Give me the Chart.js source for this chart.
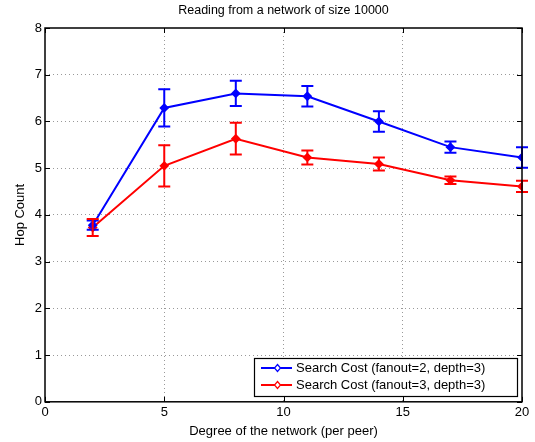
<!DOCTYPE html>
<html>
<head>
<meta charset="utf-8">
<script src="https://cdn.jsdelivr.net/npm/chart.js@4.4.0/dist/chart.umd.min.js"></script>
<style>
  html, body { margin: 0; padding: 0; background: #fff; }
  #wrap { width: 535px; height: 442px; }
</style>
</head>
<body>
<div id="wrap"><canvas id="chart"></canvas></div>
<script>
const degrees = [2, 5, 8, 11, 14, 17, 20];
const fanout2Cost = [3.78, 6.29, 6.60, 6.54, 6.00, 5.45, 5.23];
const fanout2Err = [0.10, 0.40, 0.27, 0.22, 0.22, 0.12, 0.22];
const fanout3Cost = [3.73, 5.05, 5.63, 5.23, 5.09, 4.74, 4.61];
const fanout3Err = [0.18, 0.44, 0.34, 0.15, 0.14, 0.08, 0.12];
const xTicks = [0, 5, 10, 15, 20];
const yTicks = [0, 1, 2, 3, 4, 5, 6, 7, 8];

const FONT = 'Liberation Sans, Arial, Helvetica, sans-serif';

function toPoints(xs, ys) {
    return xs.map((x, i) => ({ x: x, y: ys[i] }));
}

// error bars, drawn on the library's scales
const errorBars = {
    id: 'errorBars',
    afterDatasetsDraw(chart) {
        const ctx = chart.ctx;
        const xs = chart.scales.x, ys = chart.scales.y;
        chart.data.datasets.forEach((ds) => {
            ctx.save();
            ctx.strokeStyle = ds.borderColor;
            ctx.lineWidth = 2;
            ds.data.forEach((p, i) => {
                const e = ds.errors[i];
                const px = xs.getPixelForValue(p.x);
                const top = ys.getPixelForValue(p.y + e);
                const bot = ys.getPixelForValue(p.y - e);
                ctx.beginPath();
                ctx.moveTo(px, top); ctx.lineTo(px, bot);
                ctx.moveTo(px - 6, top); ctx.lineTo(px + 6, top);
                ctx.moveTo(px - 6, bot); ctx.lineTo(px + 6, bot);
                ctx.stroke();
            });
            ctx.restore();
        });
    }
};

// matlab style box, inward ticks and legend
const matlabBox = {
    id: 'matlabBox',
    afterDraw(chart) {
        const ctx = chart.ctx;
        const a = chart.chartArea;
        const xs = chart.scales.x, ys = chart.scales.y;
        ctx.save();
        ctx.strokeStyle = '#000';
        ctx.lineWidth = 1;
        ctx.beginPath();
        xTicks.forEach(v => {
            const px = Math.round(xs.getPixelForValue(v)) + 0.5;
            ctx.moveTo(px, a.bottom); ctx.lineTo(px, a.bottom - 5);
            ctx.moveTo(px, a.top); ctx.lineTo(px, a.top + 5);
        });
        yTicks.forEach(v => {
            const py = Math.round(ys.getPixelForValue(v)) + 0.5;
            ctx.moveTo(a.left, py); ctx.lineTo(a.left + 5, py);
            ctx.moveTo(a.right, py); ctx.lineTo(a.right - 5, py);
        });
        ctx.stroke();
        ctx.lineWidth = 1.5;
        ctx.strokeRect(a.left, a.top, a.right - a.left, a.bottom - a.top);

        // legend
        const bx = 254, by = 358, bw = 263, bh = 38;
        ctx.fillStyle = '#fff';
        ctx.fillRect(bx, by, bw, bh);
        ctx.lineWidth = 1.2;
        ctx.strokeRect(bx + 0.5, by + 0.5, bw, bh);
        ctx.font = '13px ' + FONT;
        ctx.textBaseline = 'middle';
        chart.data.datasets.forEach((ds, i) => {
            const y = by + 10 + i * 17;
            ctx.strokeStyle = ds.borderColor;
            ctx.fillStyle = ds.borderColor;
            ctx.lineWidth = 2;
            ctx.beginPath();
            ctx.moveTo(bx + 7, y); ctx.lineTo(bx + 38, y);
            ctx.stroke();
            ctx.lineWidth = 1.2;
            ctx.beginPath();
            ctx.moveTo(bx + 23.5, y - 3.5); ctx.lineTo(bx + 26.5, y);
            ctx.lineTo(bx + 23.5, y + 3.5); ctx.lineTo(bx + 20.5, y);
            ctx.closePath();
            ctx.fillStyle = '#fff';
            ctx.fill();
            ctx.stroke();
            ctx.fillStyle = '#000';
            ctx.fillText(ds.label, bx + 42, y);
        });
        ctx.restore();
    }
};

const ctx = document.getElementById('chart').getContext('2d');
const config = {
    type: 'line',
    data: {
        datasets: [{
                label: 'Search Cost (fanout=2, depth=3)',
                data: toPoints(degrees, fanout2Cost),
                errors: fanout2Err,
                borderColor: '#0000ff',
                backgroundColor: '#0000ff',
                borderWidth: 2,
                pointStyle: 'rectRot',
                pointRadius: 3.5,
                tension: 0
            },
            {
                label: 'Search Cost (fanout=3, depth=3)',
                data: toPoints(degrees, fanout3Cost),
                errors: fanout3Err,
                borderColor: '#ff0000',
                backgroundColor: '#ff0000',
                borderWidth: 2,
                pointStyle: 'rectRot',
                pointRadius: 3.5,
                tension: 0
            }
        ]
    },
    options: {
        responsive: true,
        maintainAspectRatio: false,
        animation: false,
        layout: {
            padding: { left: 0, right: 13, top: 2, bottom: 3 }
        },
        plugins: {
            legend: { display: false },
            tooltip: { enabled: false },
            title: {
                display: true,
                fullSize: false,
                text: 'Reading from a network of size 10000',
                color: '#000',
                font: { family: FONT, size: 12.5, weight: 'normal' },
                padding: { top: 1, bottom: 10 }
            }
        },
        scales: {
            x: {
                type: 'linear',
                min: 0,
                max: 20,
                afterBuildTicks: (s) => { s.ticks = xTicks.map(v => ({ value: v })); },
                ticks: {
                    color: '#000',
                    font: { family: FONT, size: 13 },
                    padding: 3,
                    maxRotation: 0
                },
                grid: {
                    drawTicks: false,
                    color: (c) => (c.tick.value === 0 || c.tick.value === 20) ? 'rgba(0,0,0,0)' : '#999',
                    lineWidth: 1
                },
                border: { display: false, dash: [1, 3] },
                title: {
                    display: true,
                    text: 'Degree of the network (per peer)',
                    color: '#000',
                    font: { family: FONT, size: 13 },
                    padding: { top: 0, bottom: 0 }
                }
            },
            y: {
                type: 'linear',
                min: 0,
                max: 8,
                afterBuildTicks: (s) => { s.ticks = yTicks.map(v => ({ value: v })); },
                afterFit: (s) => { s.width = 45; },
                ticks: {
                    color: '#000',
                    font: { family: FONT, size: 13 },
                    padding: 3
                },
                grid: {
                    drawTicks: false,
                    color: (c) => (c.tick.value === 0 || c.tick.value === 8) ? 'rgba(0,0,0,0)' : '#999',
                    lineWidth: 1
                },
                border: { display: false, dash: [1, 3] },
                title: {
                    display: true,
                    text: 'Hop Count',
                    color: '#000',
                    font: { family: FONT, size: 13 },
                    padding: { top: 13, bottom: 0 }
                }
            }
        }
    },
    plugins: [errorBars, matlabBox]
};

const myChart = new Chart(ctx, config);
</script>
</body>
</html>
